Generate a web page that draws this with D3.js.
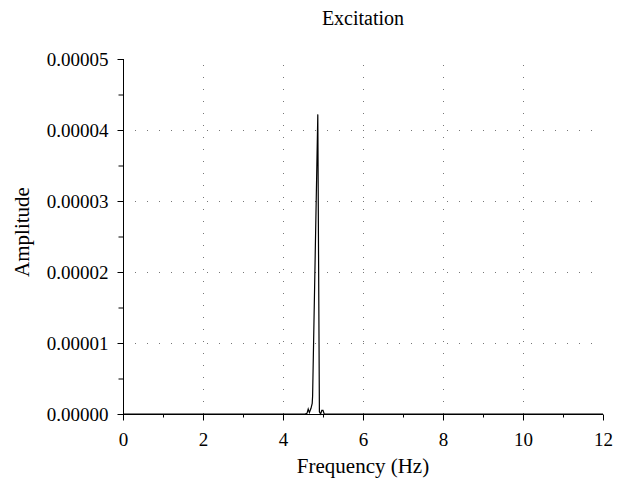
<!DOCTYPE html>
<html><head><meta charset="utf-8">
<script src="https://cdn.jsdelivr.net/npm/d3@7"></script>
<style>body{margin:0;background:#fff}svg{display:block}</style>
</head><body>
<svg id="c" width="628" height="482"></svg>
<script>
const title = "Excitation";
const xLabel = "Frequency (Hz)";
const yLabel = "Amplitude";
const xTicks = [0, 2, 4, 6, 8, 10, 12];
const xMinorTicks = [1, 3, 5, 7, 9, 11];
const yTicks = [0, 0.00001, 0.00002, 0.00003, 0.00004, 0.00005];
const yMinorTicks = [0.000005, 0.000015, 0.000025, 0.000035, 0.000045];
const freq = [0, 4.55, 4.6, 4.63, 4.66, 4.7, 4.73, 4.74, 4.87, 4.91, 4.94, 4.97, 5.0, 5.03, 12];
const amp = [0, 0, 0.0000001, 0.0000007, 0.0000002, 0.0000008, 0.0000015, 0.0000025, 0.0000422, 0.0000003, 0.0, 0.0000005, 0.0000005, 0.0, 0];

const svg = d3.select("#c");
const font = "'Liberation Serif', 'Times New Roman', serif";
const L = 123, R = 603, T = 59, B = 414;
const x = d3.scaleLinear().domain([0, 12]).range([L, R]);
const y = d3.scaleLinear().domain([0, 0.00005]).range([B, T]);

// grid
const g = svg.append("g").attr("stroke", "#777").attr("stroke-width", 1).attr("stroke-dasharray", "1,11");
g.selectAll("line.v").data(xTicks.filter(d => d > 0 && d < 12)).join("line")
  .attr("x1", d => x(d) + 0.5).attr("x2", d => x(d) + 0.5).attr("y1", B).attr("y2", T);
g.selectAll("line.h").data(yTicks.filter(d => d > 0 && d < 0.00005)).join("line")
  .attr("y1", d => y(d) + 0.5).attr("y2", d => y(d) + 0.5).attr("x1", L).attr("x2", R);

// axes
const xAxis = svg.append("g").attr("transform", `translate(0,${B + 0.5})`)
  .call(d3.axisBottom(x).tickValues(xTicks).tickSize(6).tickPadding(12).tickFormat(d3.format("d")));
svg.append("g").attr("transform", `translate(0,${B + 0.5})`)
  .call(d3.axisBottom(x).tickValues(xMinorTicks).tickSize(3).tickFormat(""))
  .select(".domain").remove();
const yAxis = svg.append("g").attr("transform", `translate(${L + 0.5},0)`)
  .call(d3.axisLeft(y).tickValues(yTicks).tickSize(6).tickPadding(9).tickFormat(d3.format(".5f")));
svg.append("g").attr("transform", `translate(${L + 0.5},0)`)
  .call(d3.axisLeft(y).tickValues(yMinorTicks).tickSize(5).tickFormat(""))
  .select(".domain").remove();
xAxis.select(".domain").attr("d", `M${L},0H${R}`);
yAxis.select(".domain").attr("d", `M0,${T}V${B}`);
svg.selectAll(".tick text").attr("font-family", font).attr("font-size", 19).attr("fill", "#000");
svg.selectAll(".tick line").attr("stroke", "#000");
svg.selectAll(".domain").attr("stroke", "#000");

// line
const line = d3.line().x((d, i) => x(freq[i])).y(d => y(d));
svg.append("path").datum(amp).attr("d", line).attr("fill", "none").attr("stroke", "#000").attr("stroke-width", 1.2);

// labels
svg.append("text").attr("x", (L + R) / 2).attr("y", 25).attr("text-anchor", "middle")
  .attr("font-family", font).attr("font-size", 20).text(title);
svg.append("text").attr("x", (L + R) / 2).attr("y", 473).attr("text-anchor", "middle")
  .attr("font-family", font).attr("font-size", 21).text(xLabel);
svg.append("text").attr("transform", `translate(29,232) rotate(-90)`).attr("text-anchor", "middle")
  .attr("font-family", font).attr("font-size", 21).text(yLabel);
</script>
</body></html>
